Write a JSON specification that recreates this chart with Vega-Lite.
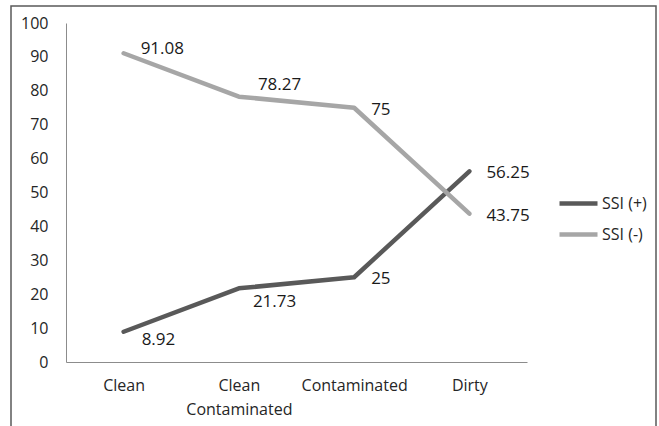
{
  "$schema": "https://vega.github.io/schema/vega-lite/v6.json",
  "width": 645,
  "height": 428,
  "autosize": {"type": "none"},
  "padding": {"left": 11, "top": 6, "right": 3, "bottom": -8},
  "background": "white",
  "config": {
    "font": "Open Sans",
    "view": {"stroke": "#5a5a5a", "strokeWidth": 1.5}
  },
  "data": {
    "values": [
      {"category": "Clean", "series": "SSI (+)", "value": 8.92},
      {"category": "Clean Contaminated", "series": "SSI (+)", "value": 21.73},
      {"category": "Contaminated", "series": "SSI (+)", "value": 25},
      {"category": "Dirty", "series": "SSI (+)", "value": 56.25},
      {"category": "Clean", "series": "SSI (-)", "value": 91.08},
      {"category": "Clean Contaminated", "series": "SSI (-)", "value": 78.27},
      {"category": "Contaminated", "series": "SSI (-)", "value": 75},
      {"category": "Dirty", "series": "SSI (-)", "value": 43.75}
    ]
  },
  "encoding": {
    "x": {
      "field": "category",
      "type": "nominal",
      "sort": ["Clean", "Clean Contaminated", "Contaminated", "Dirty"],
      "scale": {"type": "point", "range": [55, 516], "padding": 0.5},
      "axis": {
        "orient": "bottom",
        "offset": -72,
        "title": null,
        "ticks": false,
        "tickSize": 0,
        "labelAngle": 0,
        "labelPadding": 15,
        "labelFontSize": 16,
        "labelColor": "#262626",
        "labelLineHeight": 24,
        "labelOverlap": false,
        "labelFlush": false,
        "labelExpr": "datum.value == 'Clean Contaminated' ? ['Clean', 'Contaminated'] : datum.value",
        "domainColor": "#8c8c8c",
        "domainWidth": 1
      }
    },
    "y": {
      "field": "value",
      "type": "quantitative",
      "scale": {"domain": [0, 100], "range": [356, 17], "nice": false},
      "axis": {
        "orient": "left",
        "offset": -55,
        "title": null,
        "grid": false,
        "ticks": false,
        "tickSize": 0,
        "values": [0, 10, 20, 30, 40, 50, 60, 70, 80, 90, 100],
        "labelPadding": 18,
        "labelFontSize": 16,
        "labelColor": "#262626",
        "domainColor": "#8c8c8c",
        "domainWidth": 1
      }
    }
  },
  "layer": [
    {
      "mark": {"type": "line", "strokeWidth": 4.5, "strokeCap": "round", "strokeJoin": "round"},
      "encoding": {
        "color": {
          "field": "series",
          "type": "nominal",
          "scale": {"domain": ["SSI (+)", "SSI (-)"], "range": ["#595959", "#a6a6a6"]},
          "legend": {
            "orient": "none",
            "legendX": 546,
            "legendY": 176,
            "title": null,
            "padding": 0,
            "symbolType": "stroke",
            "symbolSize": 1444,
            "symbolStrokeWidth": 4.5,
            "labelFontSize": 16,
            "labelColor": "#262626",
            "labelOffset": 2,
            "rowPadding": -3
          }
        }
      }
    },
    {
      "transform": [{"filter": "datum.series == 'SSI (-)' && datum.category == 'Clean'"}],
      "mark": {"type": "text", "align": "left", "baseline": "middle", "dx": 17, "dy": -4, "fontSize": 17, "color": "#1a1a1a"},
      "encoding": {"text": {"field": "value", "type": "nominal"}}
    },
    {
      "transform": [{"filter": "datum.series == 'SSI (-)' && datum.category == 'Clean Contaminated'"}],
      "mark": {"type": "text", "align": "left", "baseline": "middle", "dx": 19, "dy": -12, "fontSize": 17, "color": "#1a1a1a"},
      "encoding": {"text": {"field": "value", "type": "nominal"}}
    },
    {
      "transform": [{"filter": "datum.category == 'Contaminated' || datum.category == 'Dirty'"}],
      "mark": {"type": "text", "align": "left", "baseline": "middle", "dx": 17, "dy": 2, "fontSize": 17, "color": "#1a1a1a"},
      "encoding": {"text": {"field": "value", "type": "nominal"}}
    },
    {
      "transform": [{"filter": "datum.series == 'SSI (+)' && datum.category == 'Clean'"}],
      "mark": {"type": "text", "align": "left", "baseline": "middle", "dx": 18, "dy": 8, "fontSize": 17, "color": "#1a1a1a"},
      "encoding": {"text": {"field": "value", "type": "nominal"}}
    },
    {
      "transform": [{"filter": "datum.series == 'SSI (+)' && datum.category == 'Clean Contaminated'"}],
      "mark": {"type": "text", "align": "left", "baseline": "middle", "dx": 14, "dy": 14, "fontSize": 17, "color": "#1a1a1a"},
      "encoding": {"text": {"field": "value", "type": "nominal"}}
    }
  ]
}
